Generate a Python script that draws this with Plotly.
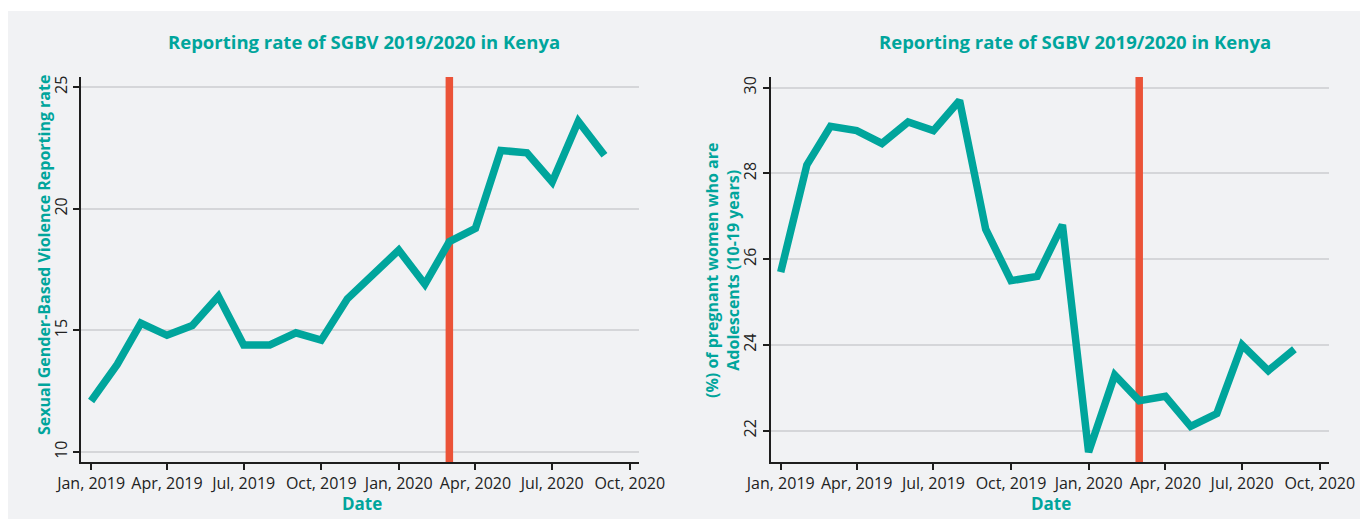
import plotly.graph_objects as go

# ---------------- data ----------------
months = [
    "2019-01-01", "2019-02-01", "2019-03-01", "2019-04-01", "2019-05-01", "2019-06-01",
    "2019-07-01", "2019-08-01", "2019-09-01", "2019-10-01", "2019-11-01", "2019-12-01",
    "2020-01-01", "2020-02-01", "2020-03-01", "2020-04-01", "2020-05-01", "2020-06-01",
    "2020-07-01", "2020-08-01", "2020-09-01",
]
sgbv_rate = [12.1, 13.6, 15.3, 14.8, 15.2, 16.4, 14.4, 14.4, 14.9, 14.6, 16.3, 17.3,
             18.3, 16.9, 18.65, 19.2, 22.4, 22.3, 21.1, 23.6, 22.2]
adolescent_pct = [25.7, 28.2, 29.1, 29.0, 28.7, 29.2, 29.0, 29.7, 26.7, 25.5, 25.6, 26.8,
                  21.5, 23.3, 22.7, 22.8, 22.1, 22.4, 24.0, 23.4, 23.9]
covid_marker_date = "2020-03-01"

tick_dates = ["2019-01-01", "2019-04-01", "2019-07-01", "2019-10-01",
              "2020-01-01", "2020-04-01", "2020-07-01", "2020-10-01"]
tick_labels = ["Jan, 2019", "Apr, 2019", "Jul, 2019", "Oct, 2019",
               "Jan, 2020", "Apr, 2020", "Jul, 2020", "Oct, 2020"]
left_yticks = [10, 15, 20, 25]
right_yticks = [22, 24, 26, 28, 30]
left_yrange = [9.59, 25.42]
right_yrange = [21.27, 30.25]

chart_title = "Reporting rate of SGBV 2019/2020 in Kenya"
left_ytitle = "Sexual Gender-Based Violence Reporting rate"
right_ytitle = "(%) of pregnant women who are<br>Adolescents (10-19 years)"
xtitle = "Date"

# ---------------- style ----------------
W, H = 1360, 519
TEAL = "#00a59c"
RED = "#eb5338"
GRID = "#d5d6d9"
PANEL = "#f1f2f4"
AXIS = "#1e1e1e"
FONT = "Open Sans"

def px(x):
    return x / W

def py(y):
    return 1 - y / H

fig = go.Figure()

# vertical marker lines (drawn first so the teal series sits on top)
fig.add_trace(go.Scatter(x=[covid_marker_date, covid_marker_date], y=left_yrange, mode="lines",
                         line=dict(color=RED, width=7.5), xaxis="x", yaxis="y",
                         showlegend=False, hoverinfo="skip"))
fig.add_trace(go.Scatter(x=[covid_marker_date, covid_marker_date], y=right_yrange, mode="lines",
                         line=dict(color=RED, width=7.5), xaxis="x2", yaxis="y2",
                         showlegend=False, hoverinfo="skip"))

fig.add_trace(go.Scatter(x=months, y=sgbv_rate, mode="lines",
                         line=dict(color=TEAL, width=7.5), xaxis="x", yaxis="y",
                         showlegend=False, hoverinfo="x+y"))
fig.add_trace(go.Scatter(x=months, y=adolescent_pct, mode="lines",
                         line=dict(color=TEAL, width=7.5), xaxis="x2", yaxis="y2",
                         showlegend=False, hoverinfo="x+y"))

xrange_ = ["2018-12-20", "2020-10-12"]
plot_top, plot_bottom = 77, 462

common_x = dict(
    type="date", range=xrange_, tickmode="array", tickvals=tick_dates, ticktext=tick_labels,
    showgrid=False, zeroline=False, showline=True, linecolor=AXIS, linewidth=2,
    ticks="outside", ticklen=6, tickwidth=1.5, tickcolor=AXIS,
    tickfont=dict(family=FONT, size=16, color="#222"), automargin=False,
    fixedrange=True,
)
common_y = dict(
    showgrid=True, gridcolor=GRID, gridwidth=2, zeroline=False, showline=True,
    linecolor=AXIS, linewidth=2, ticks="outside", ticklen=6, tickwidth=1.5, tickcolor=AXIS,
    tickangle=-90, tickfont=dict(family=FONT, size=16, color="#222"), automargin=False,
    fixedrange=True,
)

fig.update_layout(
    width=W, height=H, autosize=False,
    margin=dict(l=0, r=0, t=0, b=0, pad=0),
    paper_bgcolor="white", plot_bgcolor="rgba(0,0,0,0)",
    font=dict(family=FONT, color="#222"),
    xaxis=dict(common_x, domain=[px(81), px(639)], anchor="y"),
    yaxis=dict(common_y, domain=[py(plot_bottom), py(plot_top)], anchor="x",
               range=left_yrange, tickvals=left_yticks),
    xaxis2=dict(common_x, domain=[px(770.6), px(1329)], anchor="y2"),
    yaxis2=dict(common_y, domain=[py(plot_bottom), py(plot_top)], anchor="x2",
                range=right_yrange, tickvals=right_yticks),
    shapes=[
        dict(type="rect", xref="paper", yref="paper", x0=px(8), x1=1.0, y0=0, y1=py(11),
             fillcolor=PANEL, line=dict(width=0), layer="below"),
    ],
)

title_font = dict(family=FONT, size=18.5, color=TEAL, weight="bold")
xtitle_font = dict(family=FONT, size=17, color=TEAL, weight="bold")
ytitle_font = dict(family=FONT, size=16, color=TEAL, weight="bold")

annotations = [
    dict(text=chart_title, x=px(364), y=py(41), font=title_font),
    dict(text=chart_title, x=px(1075), y=py(41), font=title_font),
    dict(text=xtitle, x=px(362), y=py(503), font=xtitle_font),
    dict(text=xtitle, x=px(1051), y=py(503), font=xtitle_font),
    dict(text=left_ytitle, x=px(44), y=py(255), font=ytitle_font, textangle=-90),
    dict(text=right_ytitle, x=px(722), y=py(271), font=ytitle_font, textangle=-90),
]
for a in annotations:
    a.update(xref="paper", yref="paper", showarrow=False, xanchor="center", yanchor="middle")
fig.update_layout(annotations=annotations)

fig.write_html("out.html", config={"displayModeBar": False},
               post_script="document.body.style.margin='0';document.body.style.overflow='hidden';")
